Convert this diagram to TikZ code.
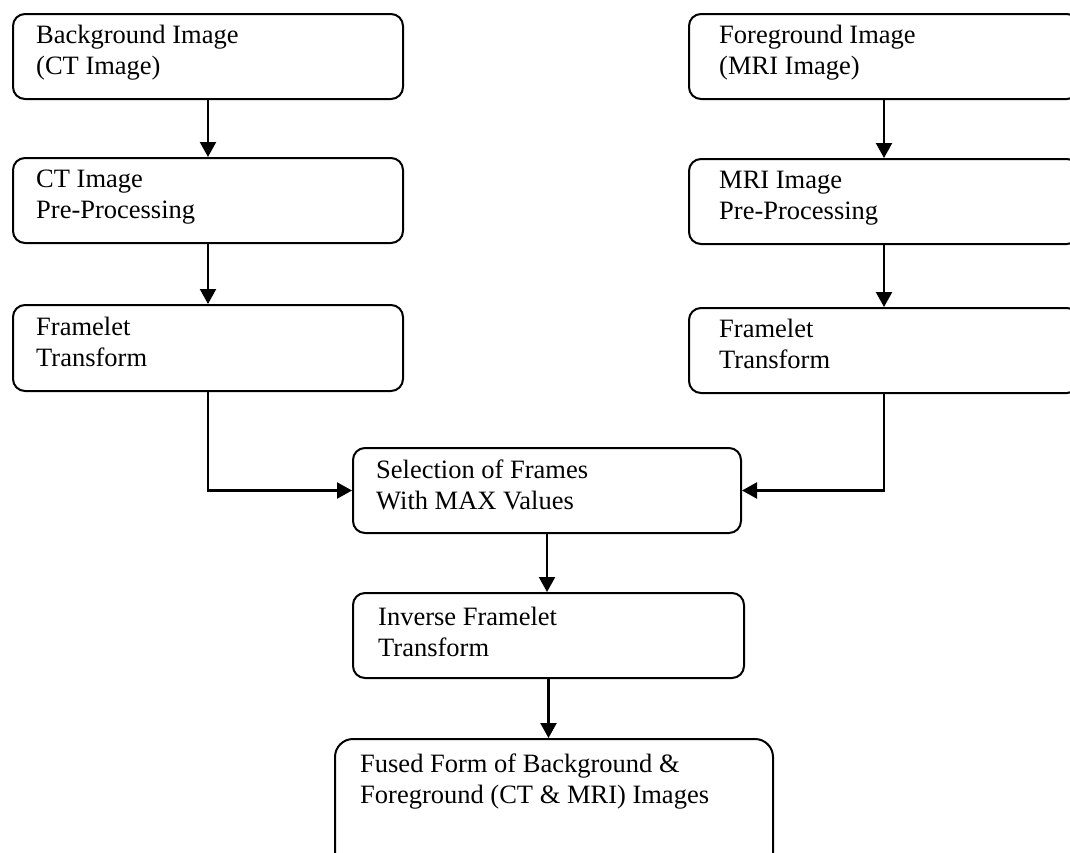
\documentclass[tikz,border=0pt]{standalone}
\usepackage{fontspec}
\setmainfont{Liberation Serif}
\usetikzlibrary{arrows.meta}
\begin{document}
\begin{tikzpicture}[x=1pt,y=-1pt,
  box/.style={draw=black, line width=2pt, rounded corners=12pt, anchor=north west, inner sep=0pt},
  txt/.style={anchor=base west, align=left, inner sep=0pt, font=\fontsize{26.5}{31}\selectfont},
  arr/.style={line width=2.2pt, -{Triangle[length=15pt,width=16pt]}}]
\useasboundingbox (0,0) rectangle (1070,852);
\clip (0,0) rectangle (1070,852);
% left column
\node[box, minimum width=390pt, minimum height=85pt] (bg) at (12,13) {};
\node[box, minimum width=390pt, minimum height=85pt] (ctp) at (12,157) {};
\node[box, minimum width=390pt, minimum height=86pt] (frl) at (12,304) {};
% right column
\node[box, minimum width=390pt, minimum height=85pt] (fg) at (688,13) {};
\node[box, minimum width=390pt, minimum height=85pt] (mrp) at (688,158) {};
\node[box, minimum width=390pt, minimum height=85pt] (frr) at (688,307) {};
% centre
\node[box, minimum width=388pt, minimum height=85pt] (sel) at (352,447) {};
\node[box, minimum width=391pt, minimum height=85pt] (inv) at (352,592) {};
\node[box, rounded corners=18pt, minimum width=438pt, minimum height=135pt] (fus) at (334,738) {};
% texts (base anchor = baseline of the last line)
\node[txt] (tbg) at ([shift={(24,61)}]bg.north west) {Background Image\\(CT Image)};
\node[txt] (tctp) at ([shift={(24,61)}]ctp.north west) {CT Image\\Pre-Processing};
\node[txt] (tfrl) at ([shift={(24,62)}]frl.north west) {Framelet\\Transform};
\node[txt] (tfg) at ([shift={(31,61)}]fg.north west) {Foreground Image\\(MRI Image)};
\node[txt] (tmrp) at ([shift={(31,61)}]mrp.north west) {MRI Image\\Pre-Processing};
\node[txt] (tfrr) at ([shift={(31,61)}]frr.north west) {Framelet\\Transform};
\node[txt] (tsel) at ([shift={(24,62)}]sel.north west) {Selection of Frames\\With MAX Values};
\node[txt] (tinv) at ([shift={(26,64)}]inv.north west) {Inverse Framelet\\Transform};
\node[txt] (tfus) at ([shift={(26,65)}]fus.north west) {Fused Form of Background \&\\Foreground (CT \& MRI) Images};
% connectors
\draw[arr] (bg.south) -- (ctp.north);
\draw[arr] (ctp.south) -- (frl.north);
\draw[arr] (fg.south) -- (mrp.north);
\draw[arr] (mrp.south) -- (frr.north);
\draw[arr] (frl.south) |- (sel.west);
\draw[arr] (frr.south) |- (sel.east);
\draw[arr] (sel.south) -- (sel.south |- inv.north);
\draw[arr] (inv.south) -- (inv.south |- fus.north);
\end{tikzpicture}
\end{document}
